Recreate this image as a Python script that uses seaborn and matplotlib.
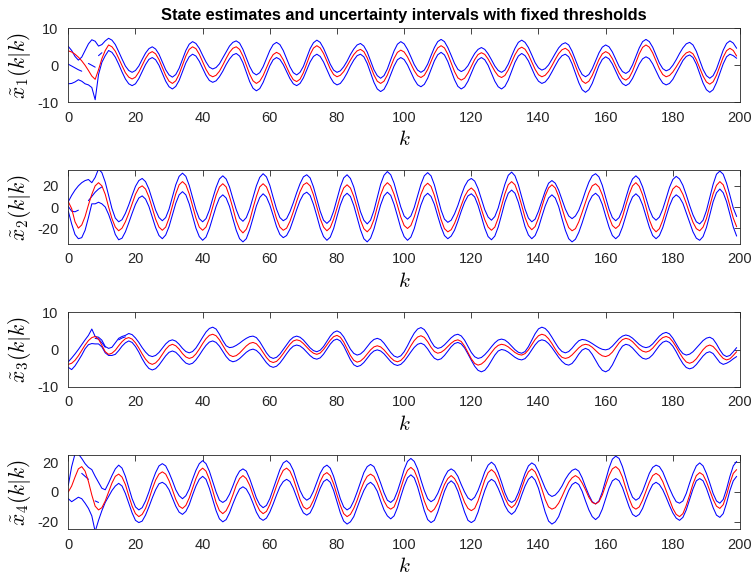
import matplotlib
matplotlib.use("Agg")
import matplotlib.pyplot as plt
import pandas as pd
import seaborn as sns

k = list(range(200))

x1_est = [3.9, 3.6, 3.0, 2.2, 1.2, 0.0, -1.4, -2.9, -3.8, -1.2,
          1.8, 4.0, 5.5, 5.0, 3.8, 1.9, -0.1, -2.0, -3.2, -3.7,
          -3.2, -1.85, 0.0, 1.85, 3.2, 3.7, 3.1, 1.55, -0.6, -2.75,
          -4.3, -4.9, -4.2, -2.4, 0.05, 2.5, 4.3, 5.0, 4.5, 3.0,
          0.95, -1.1, -2.6, -3.1, -2.7, -1.6, 0.05, 1.85, 3.5, 4.6,
          5.0, 4.3, 2.5, 0.05, -2.4, -4.2, -4.9, -4.3, -2.8, -0.7,
          1.4, 2.9, 3.5, 3.0, 1.5, -0.45, -2.4, -3.9, -4.4, -3.75,
          -2.0, 0.45, 2.9, 4.65, 5.3, 4.7, 3.2, 1.1, -1.0, -2.5,
          -3.1, -2.7, -1.7, -0.2, 1.4, 2.9, 3.9, 4.3, 3.7, 2.0,
          -0.3, -2.6, -4.3, -4.9, -4.3, -2.65, -0.4, 1.85, 3.5, 4.1,
          3.6, 2.25, 0.4, -1.45, -2.8, -3.3, -2.7, -1.15, 1.0, 3.15,
          4.7, 5.3, 4.7, 3.0, 0.65, -1.7, -3.4, -4.0, -3.5, -2.15,
          -0.3, 1.55, 2.9, 3.4, 2.95, 1.7, 0.05, -1.6, -2.85, -3.3,
          -2.75, -1.25, 0.8, 2.85, 4.35, 4.9, 4.35, 2.9, 0.9, -1.1,
          -2.55, -3.1, -2.7, -1.65, -0.1, 1.6, 3.15, 4.2, 4.6, 3.95,
          2.2, -0.15, -2.5, -4.25, -4.9, -4.3, -2.75, -0.6, 1.55, 3.1,
          3.7, 3.2, 1.8, -0.15, -2.1, -3.5, -4.0, -3.35, -1.6, 0.75,
          3.1, 4.85, 5.5, 4.9, 3.35, 1.2, -0.95, -2.5, -3.1, -2.75,
          -1.8, -0.45, 1.05, 2.4, 3.35, 3.7, 3.1, 1.5, -0.7, -2.9,
          -4.5, -5.1, -4.45, -2.7, -0.25, 2.2, 3.95, 4.6, 4.0, 2.5]
x1_up = [5.1, 4.0, 2.4, 1.4, 2.2, 4.0, 5.8, 6.9, 6.5, 5.2,
         5.6, 6.6, 7.3, 6.8, 5.6, 3.7, 1.7, -0.2, -1.4, -1.9,
         -1.4, -0.2, 1.6, 3.3, 4.5, 5.0, 4.4, 3.0, 0.9, -1.2,
         -2.6, -3.2, -2.5, -0.8, 1.6, 4.0, 5.7, 6.4, 5.9, 4.6,
         2.7, 0.9, -0.5, -1.0, -0.6, 0.4, 2.0, 3.6, 5.2, 6.2,
         6.6, 6.0, 4.3, 2.0, -0.3, -2.0, -2.6, -2.0, -0.4, 1.8,
         4.0, 5.6, 6.2, 5.6, 4.0, 1.8, -0.4, -2.0, -2.6, -1.9,
         -0.3, 2.1, 4.5, 6.1, 6.8, 6.2, 4.6, 2.5, 0.3, -1.3,
         -1.9, -1.5, -0.4, 1.1, 2.9, 4.4, 5.5, 5.9, 5.2, 3.6,
         1.2, -1.2, -2.8, -3.5, -2.8, -1.0, 1.5, 3.9, 5.7, 6.4,
         5.8, 4.3, 2.3, 0.2, -1.3, -1.9, -1.3, 0.3, 2.6, 4.8,
         6.4, 7.0, 6.4, 4.8, 2.7, 0.5, -1.1, -1.7, -1.2, -0.1,
         1.6, 3.2, 4.3, 4.8, 4.3, 3.1, 1.5, -0.2, -1.4, -1.9,
         -1.3, 0.3, 2.5, 4.6, 6.2, 6.8, 6.2, 4.8, 2.8, 0.7,
         -0.7, -1.3, -0.9, 0.1, 1.6, 3.2, 4.7, 5.7, 6.1, 5.5,
         3.8, 1.5, -0.8, -2.5, -3.1, -2.5, -0.95, 1.2, 3.35, 4.9,
         5.5, 5.0, 3.6, 1.65, -0.3, -1.7, -2.2, -1.6, 0.1, 2.4,
         4.7, 6.4, 7.0, 6.4, 4.9, 2.75, 0.6, -0.9, -1.5, -1.1,
         0.0, 1.5, 3.2, 4.7, 5.8, 6.2, 5.5, 3.8, 1.35, -1.1,
         -2.8, -3.5, -2.8, -1.0, 1.55, 4.1, 5.9, 6.6, 6.0, 4.6]
x1_lo = [-5.0, -4.9, -4.5, -3.9, -4.3, -5.0, -5.3, -6.0, -9.3, -2.5,
         0.8, 2.6, 4.0, 3.5, 2.2, 0.3, -1.8, -3.7, -5.0, -5.5,
         -5.0, -3.6, -1.7, 0.2, 1.6, 2.1, 1.5, 0.0, -2.15, -4.3,
         -5.8, -6.4, -5.7, -4.1, -1.7, 0.65, 2.3, 3.0, 2.5, 1.1,
         -0.8, -2.7, -4.1, -4.6, -4.2, -3.1, -1.6, 0.2, 1.7, 2.8,
         3.2, 2.5, 0.7, -1.85, -4.4, -6.2, -6.9, -6.3, -4.65, -2.4,
         -0.15, 1.5, 2.1, 1.6, 0.2, -1.7, -3.6, -5.0, -5.5, -4.9,
         -3.4, -1.25, 0.9, 2.4, 3.0, 2.4, 0.9, -1.15, -3.2, -4.7,
         -5.3, -4.9, -3.7, -2.1, -0.2, 1.4, 2.6, 3.0, 2.3, 0.5,
         -2.05, -4.6, -6.4, -7.1, -6.5, -4.8, -2.5, -0.2, 1.5, 2.1,
         1.55, 0.1, -1.85, -3.8, -5.25, -5.8, -5.15, -3.5, -1.15, 1.2,
         2.85, 3.5, 2.8, 1.0, -1.45, -3.9, -5.7, -6.4, -5.8, -4.3,
         -2.15, 0.0, 1.5, 2.1, 1.5, 0.0, -2.15, -4.3, -5.8, -6.4,
         -5.7, -4.0, -1.6, 0.8, 2.5, 3.2, 2.6, 1.2, -0.85, -2.9,
         -4.3, -4.9, -4.5, -3.4, -1.8, -0.1, 1.5, 2.6, 3.0, 2.3,
         0.4, -2.15, -4.7, -6.6, -7.3, -6.6, -4.9, -2.5, -0.1, 1.6,
         2.3, 1.75, 0.35, -1.6, -3.55, -4.95, -5.5, -4.95, -3.55, -1.6,
         0.35, 1.75, 2.3, 1.8, 0.4, -1.5, -3.4, -4.8, -5.3, -4.9,
         -3.8, -2.1, -0.4, 1.3, 2.4, 2.8, 2.1, 0.3, -2.25, -4.8,
         -6.6, -7.3, -6.6, -4.7, -2.15, 0.4, 2.3, 3.0, 2.6, 1.9]

x2_est = [5, -1.5, -14, -20, -17, -9, 2, 12, 20, 23,
          20, 12, 0, -11, -19, -22.5, -20, -14, -6, 3,
          12, 18, 20, 17, 9.5, -1, -11.5, -19, -22, -19,
          -10.5, 1, 12.5, 21, 24, 21, 12.5, 1, -10.5, -19,
          -22, -19, -11, 0, 11, 19, 22, 19, 10, -1,
          -13, -21, -24.5, -21, -13, -1, 10, 19, 22, 19,
          11, 0, -11, -19, -22, -20, -13.5, -4.5, 5.5, 14.5,
          21, 23, 20, 11.5, 0, -11, -19, -22.5, -19.5, -11.5,
          -1, 10, 18, 21, 18, 10, -1, -12.5, -20.5, -23.5,
          -20, -12, 0, 11.5, 19.5, 23, 20, 12, 1.5, -9.5,
          -17.5, -20.3, -17.5, -9.5, 1, 12, 19.5, 22.5, 19.5, 11,
          -0.5, -12, -20.5, -23.5, -21.5, -15.5, -7.5, 1.5, 10, 15.5,
          18, 15, 8, -2, -12, -19, -22, -19, -10.5, 1,
          12.5, 21, 24, 21, 12.5, 1.5, -10, -18, -21.5, -18.5,
          -10.5, 0, 10.5, 18, 21, 18, 10, -1, -11.5, -19.5,
          -22.5, -20.5, -14, -5, 4.5, 13.5, 20, 22, 19, 11.5,
          1, -9.5, -17.5, -20.3, -17.5, -9.5, 1.5, 12, 20, 23,
          19.5, 11.5, 0, -12, -20, -23.5, -20.5, -12.5, -2, 9,
          17, 20, 18, 12, 3.5, -6, -14.5, -20.5, -22.5, -19,
          -11, 1, 12.5, 20.5, 24, 21, 12.5, 1, -10.5, -18.7]
x2_up = [5, 11, 16, 20, 23, 25, 26, 23, 28, 36,
         32.5, 23.5, 11, -1.5, -10.5, -14, -12, -6, 2, 11,
         19.5, 25, 27, 24, 17, 7, -3, -10, -13, -10,
         -2, 9.5, 21, 29, 32, 29, 20.5, 9, -2.5, -11,
         -14, -11, -3, 8, 18.5, 26.5, 29.5, 26.5, 19, 8,
         -2.5, -10.5, -13.5, -10, -2, 9, 20, 28, 31.5, 28.5,
         20.5, 9, -2, -10, -13, -11, -4.5, 4, 13.5, 22,
         28.5, 30.5, 27.5, 19, 7.5, -4, -12.5, -15.5, -12.5, -4,
         7.5, 19, 27.5, 30.5, 27, 19, 7, -4.5, -12.5, -16,
         -12.5, -3.5, 9, 21.5, 30, 33.5, 30.5, 22.5, 11, 0,
         -8.5, -11.5, -8.5, -0.5, 10.5, 21.5, 29.5, 32.5, 29.5, 21,
         9, -3, -11.5, -14.5, -12.5, -6.5, 1.5, 11, 19.5, 25,
         27, 24.5, 17.5, 7.5, -2.5, -9.5, -12.5, -9, -1, 10.5,
         21.5, 30, 33, 29.5, 21, 9.5, -2, -10.5, -14, -11.5,
         -4, 5.5, 15, 22.5, 25, 22.5, 16, 7, -2, -8.5,
         -11, -8.5, -3, 5.5, 15, 23.5, 29.5, 31.5, 28.5, 20.5,
         9, -2, -10, -13, -10, -2.5, 8.5, 19, 26.5, 29.5,
         26.5, 19, 8.5, -2, -9.5, -12.5, -9.5, -2, 8, 18.5,
         26, 29, 26.5, 20.5, 11.5, 1.5, -7.5, -14, -16, -12.5,
         -3.5, 9, 21.5, 31, 34, 31, 22.5, 11, -1, -9]
x2_lo = [-4, -16, -26, -30, -29, -22, -10, 3, 3, 4.5,
         3, 0, -7, -16, -26, -31, -29.5, -23.5, -15, -6,
         2.5, 8.5, 10.5, 7.5, 0.5, -9.5, -19.5, -27, -30, -26.5,
         -18.5, -7.5, 3.5, 11.5, 14.5, 11.5, 3, -8.5, -20, -28,
         -31.5, -28.5, -20.5, -10, 0.5, 8.5, 11.5, 8.5, 0.5, -11,
         -22, -30, -33, -30, -21.5, -10.5, 1, 9, 12.5, 9.5,
         2, -8, -18.5, -26, -29, -27, -21, -12, -2.5, 6,
         12, 14, 11, 2.5, -8.5, -20, -28, -31.5, -28.5, -20.5,
         -9, 2, 10, 13, 10, 1.5, -10, -21.5, -30, -33,
         -29.5, -21, -9.5, 2, 10.5, 14, 11, 2.5, -8.5, -20,
         -28, -31.5, -28.5, -20.5, -9, 2, 10, 13, 10, 2.5,
         -8.5, -19, -27, -30, -27.5, -22, -13.5, -4, 4.5, 10.5,
         12.5, 9.5, 1.5, -9, -20, -28, -31, -27.5, -19, -7.5,
         4.5, 13, 16, 13, 4.5, -7, -18.5, -26.5, -30, -27,
         -19.5, -9, 1, 8.5, 11.5, 8.5, 0.5, -11, -22, -30,
         -33, -30.5, -24, -15, -5, 4.5, 10.5, 13, 10, 2.5,
         -8.5, -19, -27, -30, -27, -19, -8.5, 2, 9.5, 12.5,
         9.5, 2, -8.5, -19, -27, -30, -27, -19.5, -9, 1,
         8.5, 11.5, 9, 3.5, -5.5, -14.5, -23.5, -29.5, -31.5, -28,
         -19.5, -7.5, 5, 13.5, 17, 13.5, 5, -7, -19, -27.5]

x3_est = [-4.0, -3.7, -2.9, -1.7, -0.25, 1.2, 2.4, 3.2, 3.5, 2.8,
          1.1, -0.6, -1.3, -1.0, -0.2, 1.0, 2.1, 2.9, 3.2, 2.8,
          1.8, 0.4, -1.2, -2.6, -3.6, -4.0, -3.6, -2.65, -1.3, 0.05,
          1.0, 1.4, 1.0, 0.1, -1.1, -2.0, -2.4, -2.1, -1.2, 0.1,
          1.6, 2.9, 3.8, 4.1, 3.7, 2.6, 1.1, -0.4, -1.5, -1.9,
          -1.65, -0.95, 0.0, 0.95, 1.65, 1.9, 1.55, 0.55, -0.8, -2.15,
          -3.15, -3.5, -3.2, -2.3, -1.1, 0.2, 1.4, 2.3, 2.6, 2.35,
          1.6, 0.65, -0.3, -1.0, -1.3, -0.95, 0.0, 1.25, 2.5, 3.45,
          3.8, 3.3, 2.0, 0.2, -1.6, -2.9, -3.4, -3.1, -2.3, -1.2,
          -0.1, 0.7, 1.0, 0.7, -0.1, -1.15, -2.2, -3.0, -3.3, -2.95,
          -2.0, -0.6, 1.0, 2.4, 3.35, 3.7, 3.25, 2.1, 0.6, -0.55,
          -1.0, -0.75, -0.1, 0.8, 1.7, 2.35, 2.6, 2.15, 0.9, -0.8,
          -2.5, -3.75, -4.2, -3.9, -3.15, -2.0, -0.8, 0.35, 1.1, 1.4,
          1.2, 0.7, -0.05, -0.8, -1.3, -1.5, -1.1, -0.1, 1.3, 2.7,
          3.7, 4.1, 3.8, 2.9, 1.6, 0.1, -1.2, -2.1, -2.4, -2.15,
          -1.45, -0.5, 0.45, 1.15, 1.4, 1.2, 0.6, -0.25, -1.1, -1.7,
          -1.9, -1.55, -0.7, 0.55, 1.75, 2.65, 3.0, 2.75, 2.1, 1.15,
          0.2, -0.45, -0.7, -0.4, 0.35, 1.4, 2.45, 3.2, 3.5, 3.15,
          2.1, 0.7, -0.9, -2.3, -3.35, -3.7, -3.35, -2.5, -1.25, -0.05,
          0.85, 1.2, 0.8, -0.2, -1.4, -2.4, -2.8, -2.5, -1.6, -0.6]
x3_up = [-3.3, -2.3, -1.2, 0.0, 1.3, 2.6, 3.8, 5.5, 3.5, 3.3,
         2.5, 0.8, 0.3, 0.6, 1.8, 3.0, 3.5, 3.8, 4.3, 4.0,
         3.1, 1.9, 0.5, -0.7, -1.6, -1.9, -1.6, -0.8, 0.35, 1.5,
         2.3, 2.6, 2.25, 1.4, 0.3, -0.55, -0.9, -0.55, 0.4, 1.8,
         3.3, 4.7, 5.65, 6.0, 5.5, 4.1, 2.4, 1.0, 0.5, 0.65,
         1.1, 1.7, 2.4, 3.0, 3.45, 3.6, 3.2, 2.1, 0.6, -0.9,
         -2.0, -2.4, -2.1, -1.25, 0.0, 1.25, 2.5, 3.3, 3.6, 3.3,
         2.55, 1.5, 0.45, -0.3, -0.6, -0.2, 0.8, 2.2, 3.6, 4.6,
         5.0, 4.55, 3.4, 1.75, 0.1, -1.05, -1.5, -1.2, -0.4, 0.75,
         1.9, 2.7, 3.0, 2.65, 1.7, 0.45, -0.8, -1.75, -2.1, -1.7,
         -0.6, 1.0, 2.8, 4.4, 5.5, 5.9, 5.35, 4.0, 2.2, 0.8,
         0.3, 0.55, 1.25, 2.2, 3.15, 3.85, 4.1, 3.65, 2.5, 0.85,
         -0.8, -1.95, -2.4, -2.15, -1.4, -0.4, 0.75, 1.8, 2.55, 2.8,
         2.55, 1.85, 0.9, -0.05, -0.75, -1.0, -0.55, 0.75, 2.5, 4.25,
         5.55, 6.0, 5.65, 4.7, 3.3, 1.8, 0.4, -0.55, -0.9, -0.55,
         0.35, 1.45, 2.35, 2.7, 2.55, 2.15, 1.6, 1.0, 0.45, 0.05,
         -0.1, 0.15, 0.9, 1.9, 2.9, 3.6, 3.9, 3.65, 3.05, 2.2,
         1.35, 0.75, 0.5, 0.75, 1.5, 2.55, 3.6, 4.3, 4.6, 4.2,
         3.05, 1.55, 0.0, -1.1, -1.5, -1.25, -0.6, 0.4, 1.4, 2.4,
         3.05, 3.3, 2.8, 1.5, -0.1, -1.4, -1.9, -1.6, -0.6, 0.5]
x3_lo = [-4.8, -5.4, -4.4, -3.0, -1.5, 0.2, 1.3, 1.6, 1.5, 1.5,
         0.7, -0.9, -1.6, -1.6, -1.3, -0.3, 0.9, 1.8, 2.3, 1.9,
         0.8, -0.7, -2.5, -4.0, -5.1, -5.5, -5.15, -4.2, -2.95, -1.7,
         -0.75, -0.4, -0.75, -1.65, -2.75, -3.65, -4.0, -3.7, -2.8, -1.55,
         -0.15, 1.1, 2.0, 2.3, 1.9, 0.9, -0.5, -1.9, -2.9, -3.3,
         -3.05, -2.45, -1.6, -0.75, -0.15, 0.1, -0.25, -1.1, -2.35, -3.55,
         -4.45, -4.8, -4.5, -3.65, -2.45, -1.15, 0.05, 0.9, 1.2, 0.95,
         0.25, -0.7, -1.65, -2.35, -2.6, -2.25, -1.25, 0.1, 1.45, 2.45,
         2.8, 2.3, 0.95, -0.9, -2.75, -4.1, -4.6, -4.3, -3.5, -2.35,
         -1.2, -0.4, -0.1, -0.4, -1.15, -2.2, -3.25, -4.0, -4.3, -4.0,
         -3.15, -1.95, -0.65, 0.55, 1.4, 1.7, 1.25, 0.15, -1.25, -2.35,
         -2.8, -2.5, -1.6, -0.45, 0.75, 1.6, 1.9, 1.5, 0.4, -1.2,
         -2.9, -4.5, -5.6, -6.0, -5.6, -4.5, -3.0, -1.5, -0.4, 0.0,
         -0.2, -0.7, -1.4, -2.1, -2.6, -2.8, -2.45, -1.45, -0.1, 1.25,
         2.25, 2.6, 2.35, 1.6, 0.5, -0.8, -2.1, -3.2, -3.95, -4.2,
         -3.75, -2.65, -1.25, -0.15, 0.3, -0.1, -1.3, -2.85, -4.45, -5.6,
         -6.0, -5.5, -4.15, -2.3, -0.45, 0.9, 1.4, 1.15, 0.4, -0.6,
         -1.6, -2.35, -2.6, -2.25, -1.4, -0.15, 1.05, 1.95, 2.3, 1.9,
         0.9, -0.6, -2.3, -3.8, -4.85, -5.2, -4.9, -4.05, -2.9, -1.75,
         -0.9, -0.6, -1.1, -2.3, -3.5, -4.0, -3.7, -3.2, -2.5, -1.9]

x4_est = [0, 4, 10, 15.5, 17, 14, 7, -2, -9.5, -12,
          -10.5, -6, 0, 6, 10.5, 12, 10, 5, -2.5, -9.5,
          -14.5, -16.5, -15, -11, -5, 2, 8, 12, 13.5, 12,
          7.5, 1.5, -5, -9.5, -11, -9, -4, 2.5, 9, 14,
          16, 14, 8.5, 1, -7, -12.5, -14.5, -12.5, -8, -2,
          4.5, 9, 11, 9, 4.5, -2, -8, -12.5, -14.5, -13,
          -8.5, -2.5, 4, 10, 14.5, 16, 14, 9, 2, -5,
          -10, -11.5, -10, -5.5, 0.5, 7, 11.5, 13, 11, 5.5,
          -2, -9, -14.5, -16.5, -15, -11, -5.5, 1, 6.5, 10.5,
          12, 10.5, 6, 0, -6, -10, -11.5, -10, -4.5, 2.5,
          9.5, 14.5, 16.5, 14.5, 9, 1.5, -6, -11.5, -13.5, -11.5,
          -7.5, -1, 5, 9, 11, 9, 5, -1, -7, -11,
          -12.5, -11, -6, 1, 8, 13, 15, 13, 8.5, 2,
          -4, -8.5, -10.5, -8.5, -4, 2.5, 9, 13.5, 15.5, 13.5,
          8.5, 2, -5, -10, -11.5, -10.5, -7.5, -3, 2, 6.5,
          9.5, 11, 9.5, 6, 1.5, -3.5, -7, -8, -6.5, -2,
          4.5, 11, 15.5, 17, 15, 10, 2.5, -4.5, -10, -11.5,
          -10, -5.5, 0.5, 6.5, 11, 12.5, 11, 7, 1, -5,
          -11, -15, -16.5, -14.5, -9, -2, 5.5, 11, 13, 11.5,
          7, 1, -5, -9.5, -11, -8.5, -2, 6, 12.5, 15]
x4_up = [4.5, 17, 25.5, 25.5, 22.5, 19, 16.5, 15, 10.5, 6.5,
         2.5, 1.5, 6, 11, 15.5, 18, 16, 10.5, 3, -4.5,
         -10, -12, -10.5, -6, 0, 7, 13, 17.5, 19, 17.5,
         13, 7.5, 1.5, -2.5, -4.5, -2.5, 2, 8.5, 14.5, 19,
         21, 19, 14, 7, 0, -5.5, -7, -5.5, -1.5, 4,
         10, 14, 15.5, 14, 9, 2.5, -4, -8.5, -10.5, -9,
         -4.5, 2, 8.5, 15, 19.5, 21, 19, 14.5, 7.5, 1,
         -3.5, -5.5, -4, 0.5, 6.5, 12.5, 16.5, 18, 16, 10.5,
         3, -4.5, -10, -12, -10.5, -6, 0, 6.5, 13, 17,
         18.5, 17, 12, 6, -0.5, -5.5, -7, -5, 0.5, 7.5,
         15, 20.5, 22.5, 20.5, 15.5, 8, 1, -4.5, -6.5, -5,
         -1, 4.5, 10, 14, 15.5, 14, 10.5, 5, 0, -4,
         -5.5, -3.5, 1, 7, 13.5, 18, 20, 18, 13, 6.5,
         -0.5, -5.5, -7, -5.5, -0.5, 6, 12.5, 17.5, 19.5, 18,
         13.5, 8, 2.5, -1.5, -3, -2, 0.5, 4, 8.5, 12,
         14.5, 15.5, 14, 9.5, 3.5, -2, -6.5, -8, -6, 0,
         8, 16, 22, 24, 22.5, 17, 9.5, 2, -3.5, -5.5,
         -4, 0.5, 6.5, 12.5, 16.5, 18, 17, 13.5, 8, 2.5,
         -2.5, -6.5, -7.5, -6, -1, 6, 12.5, 17.5, 19.5, 17.5,
         12.5, 6, -1, -6, -7.5, -5, 2, 10.5, 17.5, 20.5]
x4_lo = [-4.5, -6.5, -5, -3.5, -4.5, -7.5, -11, -16, -26.5, -19,
         -12.5, -7, -3, 1, 4, 5.8, 4, -1, -7.5, -14,
         -19, -20.5, -19.5, -15.5, -10, -4, 1.5, 5.5, 6.5, 5,
         1.5, -4, -9.5, -13.5, -15, -13, -8.5, -2, 4, 8.5,
         10.5, 8.5, 2.5, -5, -12.5, -18, -20, -18.5, -14, -8,
         -2.5, 2, 3.5, 2, -2, -7.5, -13.5, -17.5, -19, -17.5,
         -13.5, -8, -2, 3.5, 7, 8.5, 7, 2.5, -3.5, -9.5,
         -14, -15.5, -14, -9.5, -3.5, 2.5, 7, 8.5, 6.5, 1,
         -6.5, -14, -19.5, -21.5, -20, -16.5, -10.5, -4.5, 1, 5,
         6.5, 4.5, 0.5, -6, -12, -16, -18, -16, -10.5, -3,
         4, 9.5, 11.5, 9.5, 3.5, -4.5, -12.5, -18.5, -20.5, -19,
         -13.5, -6.5, 0.5, 5.5, 7.5, 5.5, 0.5, -6.5, -13.5, -19,
         -20.5, -19, -13.5, -6, 1, 6.5, 8.5, 7, 2.5, -3,
         -9, -13, -15, -13, -8.5, -2, 4, 8.5, 10.5, 8,
         2.5, -5.5, -13.5, -19.5, -21.5, -20, -16.5, -10.5, -4.5, 1,
         5, 6.5, 5, 0.5, -6, -12, -16.5, -18.5, -16.5, -11.5,
         -4.5, 2.5, 7.5, 9, 7.5, 3, -3.5, -10, -15, -16.5,
         -15, -11, -5, 0.5, 5, 6.5, 5, 1.5, -3.5, -9,
         -14, -17.5, -19, -17, -12, -5, 2, 7.5, 9, 7.5,
         2.5, -4, -10.5, -15.5, -17, -14.5, -7.5, 1, 7.5, 10.5]

# short extra interval segments visible near the start of each panel
x1_frag_k = [[0, 1, 2, 3, 4], [6, 7, 8], [9, 10]]
x1_frag_v = [[0.3, -0.2, -0.7, -1.2, -1.6], [0.5, 0.0, -0.5], [2.6, 3.4]]
x2_frag_k = [[0, 1, 2, 3], [6, 7, 8, 9, 10]]
x2_frag_v = [[0.5, -4.0, -4.5, -3.0], [6, 10, 14, 17, 19]]
x3_frag_k = [[8, 9, 10, 11], [15, 16, 17]]
x3_frag_v = [[3.0, 2.8, 1.8, 0.6], [2.6, 3.1, 3.4]]
x4_frag_k = [[4, 5, 6], [8, 9]]
x4_frag_v = [[12.5, 10.5, 8.5], [-6.0, -7.0]]

ylabels = [r"$\tilde{x}_1(k|k)$", r"$\tilde{x}_2(k|k)$",
           r"$\tilde{x}_3(k|k)$", r"$\tilde{x}_4(k|k)$"]
ylims = [(-10, 10), (-35, 35), (-10, 10), (-25, 25)]
yticks = [[-10, 0, 10], [-20, 0, 20], [-10, 0, 10], [-20, 0, 20]]
xticks = list(range(0, 201, 20))
title = "State estimates and uncertainty intervals with fixed thresholds"

series = [(x1_est, x1_up, x1_lo), (x2_est, x2_up, x2_lo),
          (x3_est, x3_up, x3_lo), (x4_est, x4_up, x4_lo)]
frags = [(x1_frag_k, x1_frag_v), (x2_frag_k, x2_frag_v),
         (x3_frag_k, x3_frag_v), (x4_frag_k, x4_frag_v)]
for est, up, lo in series:
    assert len(est) == len(up) == len(lo) == len(k), (len(est), len(up), len(lo))

sns.set_theme(style="white")
plt.rcParams["font.family"] = ["Liberation Sans", "DejaVu Sans"]
plt.rcParams["mathtext.fontset"] = "cm"
plt.rcParams["axes.unicode_minus"] = False

fig = plt.figure(figsize=(7.54, 5.82), dpi=100)
W, H = 754.0, 582.0
left, right = 68.3, 740.0
tops = [28.3, 170.0, 312.3, 454.7]
bots = [102.3, 244.0, 386.7, 529.3]
axc = "#262626"
blue, red = "#0000FF", "#FF0000"
lw = 0.75

for i, (est, up, lo) in enumerate(series):
    ax = fig.add_axes([left / W, 1 - bots[i] / H, (right - left) / W, (bots[i] - tops[i]) / H])
    df = pd.DataFrame({"k": k, "est": est, "up": up, "lo": lo})
    sns.lineplot(data=df, x="k", y="up", color=blue, linewidth=lw, ax=ax)
    sns.lineplot(data=df, x="k", y="lo", color=blue, linewidth=lw, ax=ax)
    for fk, fv in zip(*frags[i]):
        sns.lineplot(x=fk, y=fv, color=blue, linewidth=lw, ax=ax)
    sns.lineplot(data=df, x="k", y="est", color=red, linewidth=lw, ax=ax)
    ax.set_xlim(0, 200)
    ax.set_ylim(*ylims[i])
    ax.set_xticks(xticks)
    ax.set_yticks(yticks[i])
    ax.tick_params(direction="in", top=True, right=True, length=4, width=0.6,
                   colors=axc, labelsize=10.5)
    ax.tick_params(axis="x", pad=6)
    ax.tick_params(axis="y", pad=7)
    for s in ax.spines.values():
        s.set_visible(True)
        s.set_color(axc)
        s.set_linewidth(0.6)
    ax.set_xlabel("$k$", fontsize=15, color="black", labelpad=4)
    ax.set_ylabel(ylabels[i], fontsize=15.5, color="black", labelpad=3)
    if i == 0:
        ax.set_title(title, fontsize=11.8, fontweight="bold", color="black", pad=6)

fig.savefig("out.png", dpi=100, facecolor="white")
